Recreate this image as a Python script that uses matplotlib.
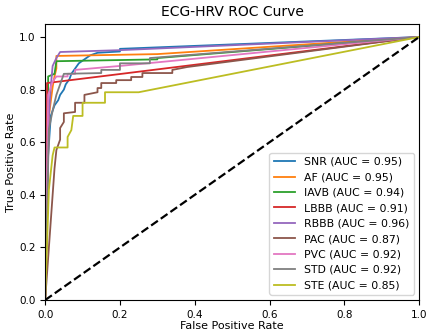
import matplotlib
matplotlib.use("Agg")
import matplotlib.pyplot as plt

# ROC points (fpr, tpr)
classes = ["SNR", "AF", "IAVB", "LBBB", "RBBB", "PAC", "PVC", "STD", "STE"]
auc = [0.95, 0.95, 0.94, 0.91, 0.96, 0.87, 0.92, 0.92, 0.85]

fpr_snr = [0, 0.008, 0.015, 0.025, 0.035, 0.04, 0.05, 0.055, 0.065, 0.07, 0.08, 0.09, 0.1, 0.12, 0.14, 0.2, 0.2, 1]
tpr_snr = [0, 0.55, 0.70, 0.74, 0.76, 0.78, 0.80, 0.82, 0.84, 0.86, 0.88, 0.9, 0.91, 0.93, 0.94, 0.945, 0.955, 1]

fpr_af = [0, 0.01, 0.02, 0.025, 0.03, 0.03, 0.3, 1]
tpr_af = [0, 0.70, 0.81, 0.85, 0.88, 0.928, 0.935, 1]

fpr_iavb = [0, 0.008, 0.008, 0.025, 0.03, 0.3, 0.3, 1]
tpr_iavb = [0, 0.6, 0.85, 0.86, 0.908, 0.915, 0.92, 1]

fpr_lbbb = [0, 0.005, 0.005, 1]
tpr_lbbb = [0, 0.4, 0.825, 1]

fpr_rbbb = [0, 0.01, 0.015, 0.02, 0.03, 0.04, 0.2, 1]
tpr_rbbb = [0, 0.70, 0.81, 0.89, 0.92, 0.943, 0.95, 1]

fpr_pac = [0, 0.025, 0.03, 0.04, 0.04, 0.05, 0.05, 0.08, 0.08, 0.105, 0.105, 0.14, 0.14, 0.15, 0.15, 0.19, 0.19, 0.23, 0.23, 0.26, 0.26, 0.34, 0.34, 0.38, 1]
tpr_pac = [0, 0.5, 0.57, 0.61, 0.654, 0.677, 0.71, 0.715, 0.75, 0.75, 0.78, 0.79, 0.806, 0.806, 0.825, 0.825, 0.836, 0.836, 0.848, 0.848, 0.863, 0.863, 0.875, 0.886, 1]

fpr_pvc = [0, 0.008, 0.02, 0.03, 0.06, 0.06, 0.08, 0.08, 0.2, 1]
tpr_pvc = [0, 0.78, 0.83, 0.85, 0.85, 0.86, 0.86, 0.875, 0.89, 1]

fpr_std = [0, 0.01, 0.02, 0.03, 0.04, 0.05, 0.15, 0.15, 0.2, 0.2, 0.28, 0.28, 1]
tpr_std = [0, 0.65, 0.72, 0.78, 0.82, 0.86, 0.863, 0.875, 0.875, 0.9, 0.9, 0.92, 1]

fpr_ste = [0, 0.01, 0.02, 0.025, 0.06, 0.06, 0.07, 0.075, 0.08, 0.1, 0.1, 0.16, 0.16, 0.25, 1]
tpr_ste = [0, 0.42, 0.55, 0.58, 0.58, 0.62, 0.646, 0.70, 0.70, 0.70, 0.75, 0.75, 0.79, 0.79, 1]

fprs = [fpr_snr, fpr_af, fpr_iavb, fpr_lbbb, fpr_rbbb, fpr_pac, fpr_pvc, fpr_std, fpr_ste]
tprs = [tpr_snr, tpr_af, tpr_iavb, tpr_lbbb, tpr_rbbb, tpr_pac, tpr_pvc, tpr_std, tpr_ste]

fig = plt.figure(figsize=(4.26, 3.36), dpi=100)
ax = fig.add_axes([0.106, 0.107, 0.878, 0.822])

for i, name in enumerate(classes):
    ax.plot(fprs[i], tprs[i], lw=1.3, color=f"C{i}",
            label=f"{name} (AUC = {auc[i]:.2f})")

ax.plot([0, 1], [0, 1], "k--", lw=1.6)

ax.set_xlim(0, 1.0)
ax.set_ylim(0, 1.05)
ax.set_xticks([0, 0.2, 0.4, 0.6, 0.8, 1.0])
ax.set_yticks([0, 0.2, 0.4, 0.6, 0.8, 1.0])
ax.tick_params(labelsize=7.5)
ax.set_xlabel("False Positive Rate", fontsize=8, labelpad=1)
ax.set_ylabel("True Positive Rate", fontsize=8, labelpad=2)
ax.set_title("ECG-HRV ROC Curve", fontsize=10)
ax.legend(loc="lower right", fontsize=7.8)

fig.savefig("out.png", dpi=100)
